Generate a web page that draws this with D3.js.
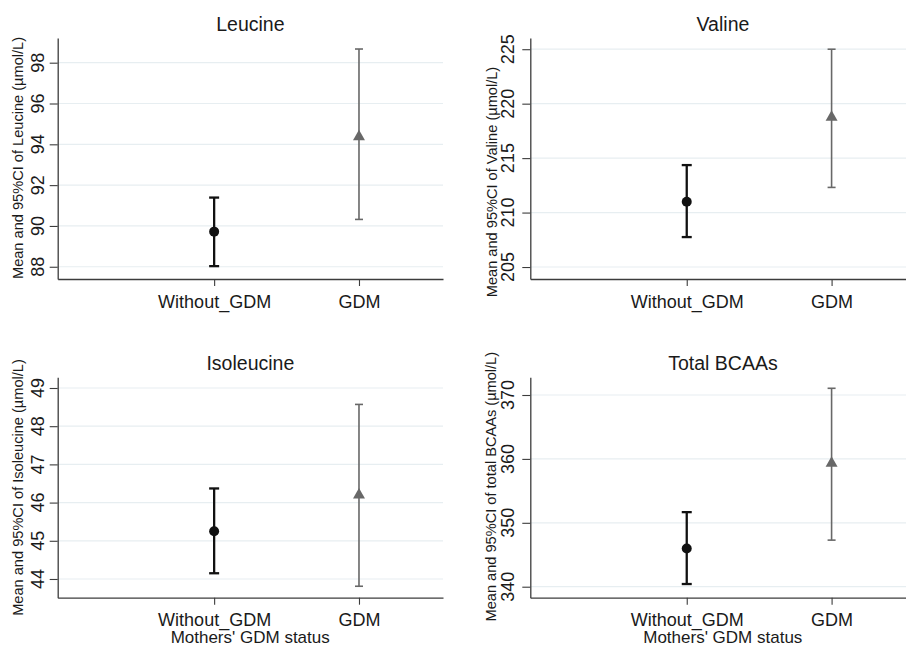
<!DOCTYPE html>
<html>
<head>
<meta charset="utf-8">
<script src="https://cdn.jsdelivr.net/npm/d3@7"></script>
<style>
  body { margin: 0; background: #fff; }
  svg { display: block; font-family: "Liberation Sans", Arial, sans-serif; }
</style>
</head>
<body>
<svg id="chart" width="906" height="645"></svg>
<script>
// categories on the x axis
const groups = ['Without_GDM', 'GDM'];

// panel titles and y titles
const titles = ['Leucine', 'Valine', 'Isoleucine', 'Total BCAAs'];
const yTitles = [
  'Mean and 95%CI of Leucine (\u00b5mol/L)',
  'Mean and 95%CI of Valine (\u00b5mol/L)',
  'Mean and 95%CI of Isoleucine (\u00b5mol/L)',
  'Mean and 95%CI of total BCAAs (\u00b5mol/L)'
];

// means and 95% CI, [Without_GDM, GDM]
const leucineMean = [89.72, 94.37];
const leucineLow  = [88.03, 90.32];
const leucineHigh = [91.39, 98.67];

const valineMean = [211.0, 218.75];
const valineLow  = [207.75, 212.31];
const valineHigh = [214.36, 225.0];

const isoleucineMean = [45.25, 46.2];
const isoleucineLow  = [44.15, 43.81];
const isoleucineHigh = [46.37, 48.57];

const bcaaMean = [345.99, 359.33];
const bcaaLow  = [340.42, 347.29];
const bcaaHigh = [351.67, 371.05];

// y tick values
const leucineTicks = [88, 90, 92, 94, 96, 98];
const valineTicks = [205, 210, 215, 220, 225];
const isoleucineTicks = [44, 45, 46, 47, 48, 49];
const bcaaTicks = [340, 350, 360, 370];

// y axis extents
const leucineDomain = [87.4, 99.21];
const valineDomain = [203.9, 226.03];
const isoleucineDomain = [43.51, 49.28];
const bcaaDomain = [338.28, 372.77];

const xTitle = "Mothers' GDM status";

const svg = d3.select('#chart');
const axisColor = '#3c3c3c';
const gridColor = '#e7eef1';
const colors = ['#111111', '#686868'];

const panels = [
  {title: titles[0], yTitle: yTitles[0], mean: leucineMean, lo: leucineLow, hi: leucineHigh,
   ticks: leucineTicks, domain: leucineDomain, left: 57.7, top: 38, bottom: 279,
   tickX: 38.3, yTitleX: 18, yTitleY: 158, xTitle: false},
  {title: titles[1], yTitle: yTitles[1], mean: valineMean, lo: valineLow, hi: valineHigh,
   ticks: valineTicks, domain: valineDomain, left: 530.3, top: 38, bottom: 279,
   tickX: 508, yTitleX: 492, yTitleY: 182, xTitle: false},
  {title: titles[2], yTitle: yTitles[2], mean: isoleucineMean, lo: isoleucineLow, hi: isoleucineHigh,
   ticks: isoleucineTicks, domain: isoleucineDomain, left: 57.7, top: 377.3, bottom: 597.7,
   tickX: 38.3, yTitleX: 18.3, yTitleY: 487.5, xTitle: true},
  {title: titles[3], yTitle: yTitles[3], mean: bcaaMean, lo: bcaaLow, hi: bcaaHigh,
   ticks: bcaaTicks, domain: bcaaDomain, left: 530.3, top: 377.3, bottom: 597.7,
   tickX: 508, yTitleX: 491.3, yTitleY: 486.7, xTitle: true}
];

const plotWidth = 385.3;

panels.forEach(p => {
  const right = p.left + plotWidth;
  const x = d3.scaleLinear().domain([-1.08, 1.58]).range([p.left, right]);
  const y = d3.scaleLinear().domain(p.domain).range([p.bottom, p.top]);
  const g = svg.append('g');

  // gridlines
  g.selectAll('line.grid').data(p.ticks).enter().append('line')
    .attr('class', 'grid')
    .attr('x1', p.left).attr('x2', right)
    .attr('y1', d => y(d)).attr('y2', d => y(d))
    .attr('stroke', gridColor).attr('stroke-width', 1.2);

  // y axis
  const yAxis = g.append('g')
    .attr('transform', `translate(${p.left},0)`)
    .call(d3.axisLeft(y).tickValues(p.ticks).tickSize(8).tickSizeOuter(0).tickFormat(d3.format('d')));
  yAxis.select('.domain').attr('stroke', axisColor).attr('stroke-width', 1.3);
  yAxis.selectAll('.tick line').attr('stroke', axisColor).attr('stroke-width', 1.1);
  yAxis.selectAll('.tick text').remove();
  g.selectAll('text.ytick').data(p.ticks).enter().append('text')
    .attr('class', 'ytick')
    .attr('transform', d => `translate(${p.tickX},${y(d)}) rotate(-90)`)
    .attr('text-anchor', 'middle')
    .attr('dominant-baseline', 'central')
    .attr('font-size', 18)
    .attr('fill', '#1a1a1a')
    .text(d => d);

  // x axis
  const xAxis = g.append('g')
    .attr('transform', `translate(0,${p.bottom})`)
    .call(d3.axisBottom(x).tickValues([0, 1]).tickSize(7).tickSizeOuter(0).tickFormat(i => groups[i]));
  xAxis.select('.domain').attr('stroke', axisColor).attr('stroke-width', 1.3);
  xAxis.selectAll('.tick line').attr('stroke', axisColor).attr('stroke-width', 1.1);
  xAxis.selectAll('.tick text')
    .attr('y', 0).attr('dy', null)
    .attr('transform', 'translate(0,28.5)')
    .attr('font-size', 18)
    .attr('fill', '#1a1a1a');

  // title
  g.append('text')
    .attr('x', (p.left + right) / 2)
    .attr('y', p.top - 7.5)
    .attr('text-anchor', 'middle')
    .attr('font-size', 19.5)
    .attr('fill', '#1a1a1a')
    .text(p.title);

  // y title
  g.append('text')
    .attr('transform', `translate(${p.yTitleX},${p.yTitleY}) rotate(-90)`)
    .attr('text-anchor', 'middle')
    .attr('dominant-baseline', 'central')
    .attr('font-size', 14.6)
    .attr('fill', '#1a1a1a')
    .text(p.yTitle);

  if (p.xTitle) {
    g.append('text')
      .attr('x', p.left + 192.5)
      .attr('y', 642.5)
      .attr('text-anchor', 'middle')
      .attr('font-size', 17)
      .attr('fill', '#1a1a1a')
      .text(xTitle);
  }

  // error bars
  const widths = [2.3, 1.6];
  const caps = [5, 4];
  groups.forEach((grp, i) => {
    const cx = x(i);
    const eb = g.append('g').attr('stroke', colors[i]).attr('stroke-width', widths[i]);
    eb.append('line').attr('x1', cx).attr('x2', cx).attr('y1', y(p.lo[i])).attr('y2', y(p.hi[i]));
    eb.append('line').attr('x1', cx - caps[i]).attr('x2', cx + caps[i]).attr('y1', y(p.hi[i])).attr('y2', y(p.hi[i]));
    eb.append('line').attr('x1', cx - caps[i]).attr('x2', cx + caps[i]).attr('y1', y(p.lo[i])).attr('y2', y(p.lo[i]));
  });

  // markers
  g.append('circle')
    .attr('cx', x(0)).attr('cy', y(p.mean[0])).attr('r', 5)
    .attr('fill', colors[0]);
  g.append('path')
    .attr('d', d3.symbol().type(d3.symbolTriangle).size(62)())
    .attr('transform', `translate(${x(1)},${y(p.mean[1])})`)
    .attr('fill', colors[1]);
});
</script>
</body>
</html>
